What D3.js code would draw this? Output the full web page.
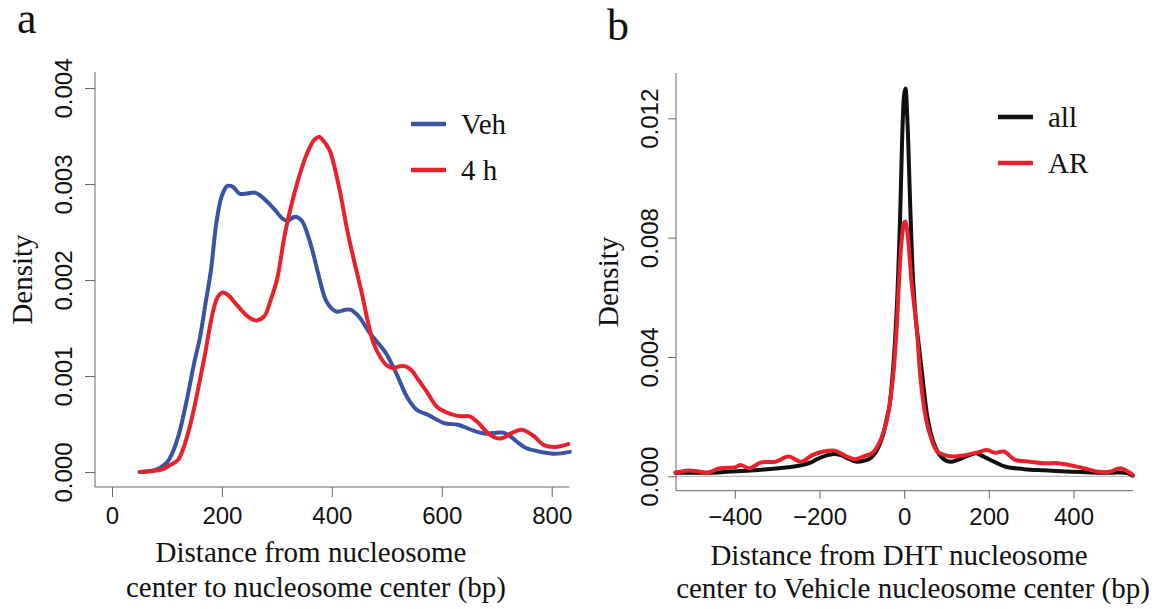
<html>
<head>
<meta charset="UTF-8"/>
<script src="https://d3js.org/d3.v7.min.js"></script>
<title>Nucleosome distance density</title>
<style>
body{ margin:0; background:#fff; }
svg{ background:#fff; }
.tick line{ stroke:#666; stroke-width:1; }
.tick text{ font-family:"Liberation Sans", Arial, sans-serif; font-size:24px; fill:#111; }
.serif{ font-family:"Liberation Serif", "Times New Roman", serif; fill:#111; }
.box{ stroke:#666; stroke-width:1; fill:none; }
</style>
</head>
<body>
<svg id="fig" width="1159" height="609"></svg>
<script>
'use strict';

// panel a: distance between nucleosome centers (bp) vs density
var vehX = [50,70,86,100,110,122,135,150,160,170,180,190,200,210,220,232,245,260,270,285,298,310,320,333,345,355,365,375,389,400,410,425,435,449,470,497,517,537,554,577,604,631,658,678,700,712,725,740,753,780,806,833];
var vehY = [0,0.00001,0.00004,0.0001,0.0002,0.0004,0.00072,0.00115,0.0014,0.00175,0.0021,0.0026,0.00288,0.00298,0.00297,0.0029,0.0029,0.00291,0.00288,0.0028,0.00272,0.00264,0.00262,0.00266,0.00262,0.00249,0.0023,0.00207,0.00179,0.0017,0.00167,0.00169,0.00169,0.00162,0.00144,0.00125,0.00103,0.00078,0.00065,0.00059,0.00051,0.00049,0.00043,0.0004,0.00041,0.00041,0.00037,0.0003,0.00025,0.00021,0.00019,0.00021];
var h4X = [52,75,93,105,120,130,140,150,160,170,177,185,192,202,212,227,245,255,265,278,288,300,315,335,355,368,377,386,396,413,429,443,455,465,476,490,500,512,522,534,545,555,571,591,605,618,635,651,665,685,702,714,725,746,766,786,806,830];
var h4Y = [0,0.00001,0.00003,0.00007,0.000125,0.00025,0.00044,0.00068,0.00096,0.00125,0.00148,0.0017,0.00182,0.00187,0.00184,0.00174,0.00163,0.00159,0.00158,0.00163,0.00178,0.002,0.00249,0.00297,0.00332,0.00346,0.00349,0.00344,0.00335,0.00297,0.00249,0.00214,0.00185,0.00158,0.00134,0.00118,0.00111,0.00108,0.0011,0.0011,0.00106,0.00098,0.00085,0.00068,0.00063,0.0006,0.00058,0.00058,0.00052,0.0004,0.00035,0.00036,0.0004,0.00044,0.00038,0.00028,0.00026,0.00029];
var aTicksX = [0,200,400,600,800];
var aTicksY = [0,0.001,0.002,0.003,0.004];

// panel b: DHT nucleosome center to vehicle nucleosome center (bp)
var allX = [-540,-500,-460,-420,-372,-330,-285,-260,-241,-220,-206,-185,-167,-150,-136,-120,-110,-95,-84,-70,-60,-49,-40,-35,-27,-18,-10,-5,0,3,8,14,21,28,35,44,56,70,87,100,113,130,144,158,170,182,196,218,240,284,330,371,420,459,495,510,529,540];
var allY = [0.00012,0.00012,0.00012,0.00015,0.00019,0.00023,0.00029,0.00033,0.00038,0.00047,0.00057,0.00069,0.00075,0.00071,0.00062,0.00052,0.00049,0.00052,0.00057,0.00075,0.001,0.00144,0.002,0.00233,0.00345,0.00546,0.0085,0.0112,0.0128,0.013,0.0118,0.0092,0.0066,0.0052,0.00434,0.00323,0.00189,0.00111,0.00066,0.00052,0.00049,0.00057,0.00066,0.00073,0.00077,0.0007,0.0006,0.00045,0.00032,0.00024,0.0002,0.00017,0.00014,0.00012,0.00012,0.00013,0.0001,0.00002];
var arX = [-540,-514,-488,-466,-435,-400,-387,-365,-339,-304,-273,-243,-217,-191,-164,-138,-116,-94,-76,-59,-41,-27,-18,-12,-6,0,3,9,17,24,30,39,52,65,78,96,118,144,170,196,214,236,262,297,328,363,389,424,459,485,511,529,540];
var arY = [0.00012,0.00019,0.00017,0.00012,0.00027,0.0003,0.00038,0.00027,0.00046,0.00049,0.00066,0.00049,0.00071,0.00083,0.00086,0.00068,0.00057,0.00068,0.00077,0.00111,0.00189,0.00323,0.0049,0.00658,0.0079,0.0085,0.00854,0.008,0.00658,0.0057,0.0049,0.00323,0.00189,0.00122,0.00083,0.00071,0.00066,0.00071,0.00079,0.00088,0.00079,0.00083,0.00055,0.00049,0.00044,0.00044,0.00038,0.00027,0.00015,0.00015,0.00027,0.00015,0.00005];
var bTicksX = [-400,-200,0,200,400];
var bTicksY = [0,0.004,0.008,0.012];

var svg = d3.select('#fig');
var fmt3 = d3.format('.3f');

function panel(o){
    var g = svg.append('g');
    var sx = d3.scaleLinear().domain(o.xd).range(o.xr);
    var sy = d3.scaleLinear().domain(o.yd).range(o.yr);

    if(o.zero){
        g.append('line').attr('x1', o.left).attr('x2', o.right)
            .attr('y1', sy(0)).attr('y2', sy(0))
            .attr('stroke', '#aaa').attr('stroke-width', 1);
    }

    var xAxis = d3.axisBottom(sx).tickValues(o.tx).tickSize(o.tick).tickFormat(d3.format('d'));
    var yAxis = d3.axisLeft(sy).tickValues(o.ty).tickSize(o.tick).tickFormat(fmt3);

    var gx = g.append('g').attr('transform', 'translate(0,' + o.bottom + ')').call(xAxis);
    gx.select('.domain').remove();
    gx.selectAll('text').attr('y', o.xlab).attr('dy', 0);

    var gy = g.append('g').attr('transform', 'translate(' + o.left + ',0)').call(yAxis);
    gy.select('.domain').remove();
    gy.selectAll('text').attr('x', 0).attr('dy', 0).attr('text-anchor', 'middle')
        .attr('transform', 'translate(' + (-o.ylab) + ',0) rotate(-90)');

    g.append('path').attr('class', 'box')
        .attr('d', 'M' + o.left + ',' + o.top + 'V' + o.bottom + 'H' + o.right);

    var line = d3.line().x(function(d){return sx(d[0]);}).y(function(d){return sy(d[1]);})
        .curve(d3.curveCatmullRom.alpha(0.5));
    o.series.forEach(function(s){
        g.append('path').datum(d3.zip(s.x, s.y))
            .attr('d', line).attr('fill', 'none')
            .attr('stroke', s.color).attr('stroke-width', 4)
            .attr('stroke-linejoin', 'round').attr('stroke-linecap', 'round');
    });

    o.series.forEach(function(s, i){
        var ly = o.legY + i * o.legDy;
        g.append('line').attr('x1', o.legX).attr('x2', o.legX + 35)
            .attr('y1', ly).attr('y2', ly)
            .attr('stroke', s.color).attr('stroke-width', 4.5);
        g.append('text').attr('class', 'serif').attr('x', o.legX + 50).attr('y', ly + 10)
            .attr('font-size', 29).text(s.name);
    });

    g.append('text').attr('class', 'serif').attr('font-size', 29)
        .attr('text-anchor', 'middle')
        .attr('transform', 'translate(' + o.ytitleX + ',' + ((o.top + o.bottom) / 2) + ') rotate(-90)')
        .text('Density');

    o.xtitle.forEach(function(t, i){
        g.append('text').attr('class', 'serif').attr('font-size', 29)
            .attr('text-anchor', 'middle')
            .attr('x', o.xtitleX[i]).attr('y', o.xtitleY[i]).text(t);
    });

    g.append('text').attr('class', 'serif').attr('font-size', 44)
        .attr('x', o.tagX).attr('y', o.tagY).text(o.tag);
}

panel({
    xd: [0, 800], xr: [112, 551.7],
    yd: [0, 0.004], yr: [472, 88],
    left: 95, right: 569.5, top: 72, bottom: 487,
    tx: aTicksX, ty: aTicksY, tick: 10, xlab: 36.5, ylab: 23,
    series: [
        {name: 'Veh', x: vehX, y: vehY, color: '#3a53a4'},
        {name: '4 h', x: h4X, y: h4Y, color: '#e8212a'}
    ],
    legX: 411, legY: 124, legDy: 46,
    ytitleX: 32, xtitle: ['Distance from nucleosome', 'center to nucleosome center (bp)'],
    xtitleX: [311, 316], xtitleY: [562, 597],
    tag: 'a', tagX: 17, tagY: 33
});

panel({
    xd: [-200, 400], xr: [819.5, 1073.5],
    yd: [0, 0.012], yr: [476.3, 118.3],
    left: 676, right: 1133, top: 73, bottom: 490.7,
    tx: bTicksX, ty: bTicksY, tick: 8, xlab: 34.3, ylab: 18,
    zero: true,
    series: [
        {name: 'all', x: allX, y: allY, color: '#111111'},
        {name: 'AR', x: arX, y: arY, color: '#e8212a'}
    ],
    legX: 998, legY: 117, legDy: 46,
    ytitleX: 618, xtitle: ['Distance from DHT nucleosome', 'center to Vehicle nucleosome center (bp)'],
    xtitleX: [899, 913], xtitleY: [565, 598],
    tag: 'b', tagX: 607, tagY: 40
});
</script>
</body>
</html>
